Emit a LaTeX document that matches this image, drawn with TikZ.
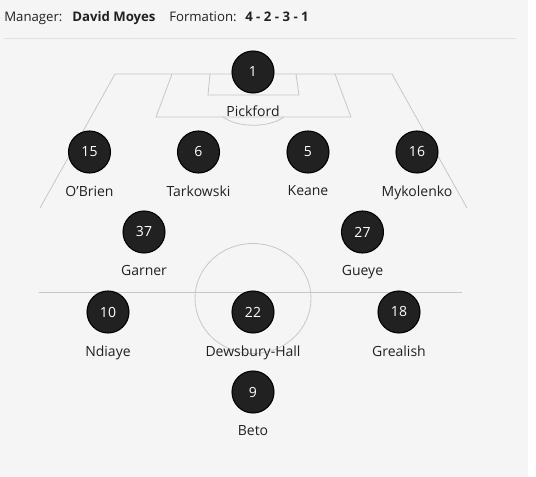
\documentclass[tikz,border=0pt]{standalone}
\usepackage{fontspec}
\setmainfont{Open Sans}
\usetikzlibrary{positioning}

\begin{document}
\begin{tikzpicture}[x=0.75pt,y=-0.75pt,
  player/.style={circle,draw=black,line width=0.8pt,fill=col_shirt,minimum size=31.5pt,inner sep=0pt,text=white,font=\fontsize{10.5}{12}\selectfont},
  plname/.style={text=col_name,inner sep=0pt,font=\fontsize{10.5}{12}\selectfont},
  pitchline/.style={draw=col_pitch,line width=0.6pt},
  header/.style={anchor=base west,inner sep=0pt,text=col_name,font=\fontsize{9.9}{12}\selectfont}]
%
\definecolor{col_bg}{rgb}{0.961,0.961,0.961}
\definecolor{col_shirt}{rgb}{0.13,0.13,0.13}
\definecolor{col_name}{rgb}{0.13,0.13,0.13}
\definecolor{col_pitch}{rgb}{0.78,0.78,0.78}
\definecolor{col_rule}{rgb}{0.88,0.88,0.88}
%
\useasboundingbox (0,0) rectangle (536,477);
\fill[col_bg] (0,0) rectangle (528,477);
%
% header
\node[header] (mgr) at (4,22) {Manager:};
\node[header,font=\fontsize{9.9}{12}\selectfont\bfseries] (mgrname) at (72,22) {David Moyes};
\node[header] (form) at (169,22) {Formation:};
\node[header,font=\fontsize{9.9}{12}\selectfont\bfseries] (formval) at (245,22) {4 - 2 - 3 - 1};
\draw[col_rule,line width=0.6pt] (4,38) -- (516,38);
%
% pitch
\draw[pitchline] (40,208) -- (115,74) -- (392,74) -- (467,208);
\draw[pitchline] (172,74) -- (156,117) -- (351,117) -- (335,74);
\draw[pitchline] (210,74) -- (208,95) -- (299,95) -- (296,74);
\draw[pitchline] (223,117) .. controls (238,128) and (269,128) .. (284,117);
\draw[pitchline] (39,292) -- (462,292);
\draw[pitchline] (253,298.5) ellipse[x radius=58,y radius=55];
%
% players
\node[player] (p1) at (253,72) {1};
\node[player] (p15) at (89.5,152) {15};
\node[player] (p6) at (198.5,152) {6};
\node[player] (p5) at (308,152) {5};
\node[player] (p16) at (417,152) {16};
\node[player] (p37) at (144,232) {37};
\node[player] (p27) at (362.5,232) {27};
\node[player] (p10) at (108,312) {10};
\node[player] (p22) at (253,312) {22};
\node[player] (p18) at (399,312) {18};
\node[player] (p9) at (253,392) {9};
%
% names
\node[plname,below=9pt of p1] (n1) {Pickford};
\node[plname,below=9pt of p15] (n15) {O'Brien};
\node[plname,below=9pt of p6] (n6) {Tarkowski};
\node[plname,below=9pt of p5] (n5) {Keane};
\node[plname,below=9pt of p16] (n16) {Mykolenko};
\node[plname,below=9pt of p37] (n37) {Garner};
\node[plname,below=9pt of p27] (n27) {Gueye};
\node[plname,below=9pt of p10] (n10) {Ndiaye};
\node[plname,below=9pt of p22] (n22) {Dewsbury-Hall};
\node[plname,below=9pt of p18] (n18) {Grealish};
\node[plname,below=9pt of p9] (n9) {Beto};
%
\end{tikzpicture}
\end{document}
